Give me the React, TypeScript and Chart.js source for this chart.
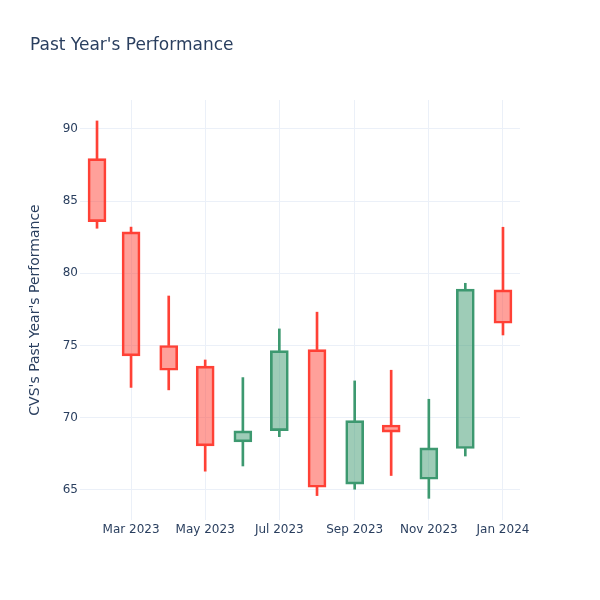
import React, { useEffect, useRef } from "react";
import { Chart, registerables } from "chart.js";

Chart.register(...registerables);

// ---- data ----
const dates = [
  "2023-02-01", "2023-03-01", "2023-04-01", "2023-05-01", "2023-06-01", "2023-07-01",
  "2023-08-01", "2023-09-01", "2023-10-01", "2023-11-01", "2023-12-01", "2024-01-01",
];
const openValues = [87.94, 82.87, 75.0, 73.57, 68.33, 69.11, 74.72, 65.4, 69.5, 65.74, 67.87, 78.85];
const highValues = [90.55, 83.2, 78.43, 74.0, 72.78, 76.15, 77.31, 72.55, 73.29, 71.28, 79.31, 83.19];
const lowValues = [83.12, 72.1, 71.93, 66.3, 66.66, 68.69, 64.61, 65.05, 66.0, 64.42, 67.35, 75.73];
const closeValues = [83.58, 74.28, 73.29, 68.05, 69.09, 74.65, 65.19, 69.8, 69.0, 67.91, 78.9, 76.54];

const xTickDates = ["2023-03-01", "2023-05-01", "2023-07-01", "2023-09-01", "2023-11-01", "2024-01-01"];
const xTickLabels = ["Mar 2023", "May 2023", "Jul 2023", "Sep 2023", "Nov 2023", "Jan 2024"];
const yTickValues = [65, 70, 75, 80, 85, 90];

const xRangeStart = "2023-01-18";
const xRangeEnd = "2024-01-15";
const yRange = [62.92, 92.0];

const chartTitle = "Past Year's Performance";
const yAxisTitle = "CVS's Past Year's Performance";

// ---- styles ----
const INC_LINE = "#3D9970";
const DEC_LINE = "#FF4136";
const INC_FILL = "rgba(61,153,112,0.5)";
const DEC_FILL = "rgba(255,65,54,0.5)";
const TEXT = "#2a3f5f";
const GRID = "#EBF0F8";
const FONT = "'DejaVu Sans', Verdana, sans-serif";

const toDay = (s: string) => Date.parse(s + "T00:00:00Z") / 86400000;

export default function App() {
  const ref = useRef<HTMLCanvasElement | null>(null);

  useEffect(() => {
    document.body.style.margin = "0";
    const canvas = ref.current;
    if (!canvas) return;

    const xs = dates.map(toDay);
    const up = openValues.map((o, i) => closeValues[i] >= o);
    const lineColors = up.map((u) => (u ? INC_LINE : DEC_LINE));
    const fillColors = up.map((u) => (u ? INC_FILL : DEC_FILL));

    const titlePlugin = {
      id: "plotTitle",
      afterDraw(chart: any) {
        const ctx = chart.ctx;
        ctx.save();
        ctx.font = `17px ${FONT}`;
        ctx.fillStyle = TEXT;
        ctx.textBaseline = "alphabetic";
        ctx.textAlign = "left";
        ctx.fillText(chartTitle, 30, 50);
        ctx.restore();
      },
    };

    const chart = new Chart(canvas, {
      type: "bar",
      data: {
        datasets: [
          {
            label: "upper wick",
            data: xs.map((x, i) => ({ x, y: [Math.max(openValues[i], closeValues[i]), highValues[i]] })) as any,
            backgroundColor: lineColors,
            borderWidth: 0,
            barThickness: 2,
            grouped: false,
          } as any,
          {
            label: "lower wick",
            data: xs.map((x, i) => ({ x, y: [lowValues[i], Math.min(openValues[i], closeValues[i])] })) as any,
            backgroundColor: lineColors,
            borderWidth: 0,
            barThickness: 2,
            grouped: false,
          } as any,
          {
            label: "body",
            data: xs.map((x, i) => ({ x, y: [openValues[i], closeValues[i]] })) as any,
            backgroundColor: fillColors,
            borderColor: lineColors,
            borderWidth: 2,
            borderSkipped: false,
            barThickness: 18,
            grouped: false,
          } as any,
        ],
      },
      options: {
        responsive: false,
        animation: false,
        maintainAspectRatio: false,
        layout: { padding: { top: 100, right: 80, left: 0, bottom: 0 } },
        plugins: {
          legend: { display: false },
          tooltip: { enabled: false },
          title: { display: false },
        },
        scales: {
          x: {
            type: "linear",
            min: toDay(xRangeStart),
            max: toDay(xRangeEnd),
            offset: false,
            grid: { color: GRID, lineWidth: 1, drawTicks: false, offset: false },
            border: { display: false },
            ticks: {
              color: TEXT,
              font: { family: FONT, size: 12 },
              padding: 3,
              maxRotation: 0,
              autoSkip: false,
              callback: (v: any) => {
                const idx = xTickDates.findIndex((d) => Math.abs(toDay(d) - Number(v)) < 0.01);
                return idx >= 0 ? xTickLabels[idx] : "";
              },
            },
            afterBuildTicks: (s: any) => {
              s.ticks = xTickDates.map((d) => ({ value: toDay(d) }));
            },
            afterFit: (s: any) => {
              s.height = 80;
            },
          } as any,
          y: {
            type: "linear",
            min: yRange[0],
            max: yRange[1],
            grid: { color: GRID, lineWidth: 1, drawTicks: false },
            border: { display: false },
            ticks: {
              color: TEXT,
              font: { family: FONT, size: 12 },
              padding: 2,
              callback: (v: any) => String(v),
            },
            afterBuildTicks: (s: any) => {
              s.ticks = yTickValues.map((v) => ({ value: v }));
            },
            title: {
              display: true,
              text: yAxisTitle,
              color: TEXT,
              font: { family: FONT, size: 14 },
              padding: { top: 27, bottom: 0 },
            },
            afterFit: (s: any) => {
              s.width = 80;
            },
          } as any,
        },
      },
      plugins: [titlePlugin],
    });

    return () => chart.destroy();
  }, []);

  return (
    <div style={{ width: 600, height: 600, background: "#fff" }}>
      <canvas ref={ref} width={600} height={600} style={{ display: "block" }} />
    </div>
  );
}
